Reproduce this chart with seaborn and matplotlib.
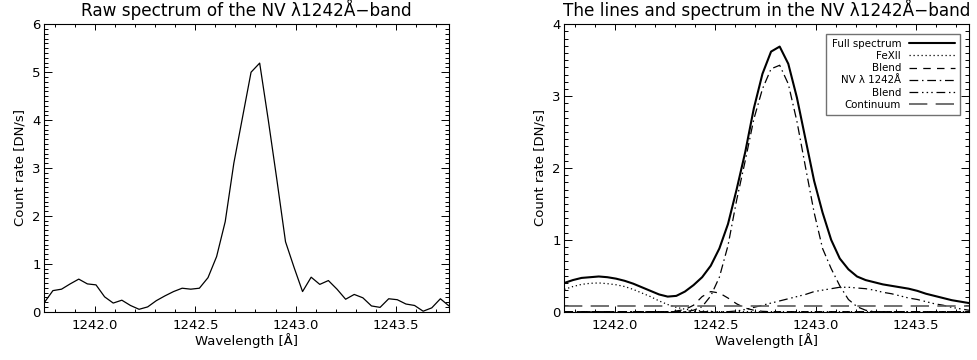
import matplotlib
matplotlib.use('Agg')
import matplotlib.pyplot as plt
from matplotlib.ticker import MultipleLocator
import seaborn as sns

# wavelength grid [Å] shared by both panels
wavelength = [1241.746, 1241.789, 1241.832, 1241.875, 1241.918, 1241.961, 1242.004, 1242.047,
              1242.090, 1242.133, 1242.176, 1242.219, 1242.262, 1242.305, 1242.348, 1242.391,
              1242.434, 1242.477, 1242.520, 1242.563, 1242.606, 1242.649, 1242.692, 1242.735,
              1242.778, 1242.821, 1242.864, 1242.907, 1242.950, 1242.993, 1243.035, 1243.078,
              1243.121, 1243.164, 1243.207, 1243.250, 1243.293, 1243.336, 1243.379, 1243.422,
              1243.465, 1243.508, 1243.551, 1243.594, 1243.637, 1243.680, 1243.723, 1243.766]

raw_counts = [0.19, 0.44, 0.47, 0.58, 0.68, 0.58, 0.56, 0.31, 0.18, 0.24,
              0.13, 0.05, 0.10, 0.23, 0.33, 0.42, 0.49, 0.47, 0.49, 0.71,
              1.15, 1.88, 3.10, 4.05, 5.00, 5.19, 4.00, 2.75, 1.46, 0.92,
              0.42, 0.72, 0.57, 0.65, 0.47, 0.26, 0.36, 0.29, 0.12, 0.09,
              0.27, 0.25, 0.16, 0.13, 0.01, 0.08, 0.27, 0.12]

full_spectrum = [0.40, 0.44, 0.47, 0.48, 0.49, 0.48, 0.46, 0.43, 0.39, 0.34,
                 0.29, 0.24, 0.21, 0.22, 0.28, 0.37, 0.48, 0.64, 0.88, 1.22,
                 1.70, 2.22, 2.83, 3.31, 3.62, 3.69, 3.45, 2.98, 2.40, 1.82,
                 1.38, 1.00, 0.74, 0.59, 0.49, 0.44, 0.41, 0.38, 0.36, 0.34,
                 0.32, 0.29, 0.25, 0.22, 0.19, 0.16, 0.14, 0.12]

fexii = [0.31, 0.35, 0.38, 0.395, 0.40, 0.39, 0.375, 0.35, 0.31, 0.26,
         0.21, 0.15, 0.10, 0.06, 0.035, 0.02, 0.01, 0.005, 0.0, 0.0,
         0.0, 0.0, 0.0, 0.0, 0.0, 0.0, 0.0, 0.0, 0.0, 0.0,
         0.0, 0.0, 0.0, 0.0, 0.0, 0.0, 0.0, 0.0, 0.0, 0.0,
         0.0, 0.0, 0.0, 0.0, 0.0, 0.0, 0.0, 0.0]

blend_1 = [0.0, 0.0, 0.0, 0.0, 0.0, 0.0, 0.0, 0.0, 0.0, 0.0,
           0.0, 0.0, 0.0, 0.01, 0.03, 0.09, 0.21, 0.28, 0.26, 0.19,
           0.11, 0.05, 0.02, 0.005, 0.0, 0.0, 0.0, 0.0, 0.0, 0.0,
           0.0, 0.0, 0.0, 0.0, 0.0, 0.0, 0.0, 0.0, 0.0, 0.0,
           0.0, 0.0, 0.0, 0.0, 0.0, 0.0, 0.0, 0.0]

nv_line = [0.0, 0.0, 0.0, 0.0, 0.0, 0.0, 0.0, 0.0, 0.0, 0.0,
           0.0, 0.0, 0.0, 0.0, 0.0, 0.02, 0.07, 0.22, 0.48, 0.92,
           1.55, 2.10, 2.68, 3.10, 3.38, 3.43, 3.17, 2.65, 2.01, 1.38,
           0.88, 0.60, 0.36, 0.17, 0.07, 0.02, 0.0, 0.0, 0.0, 0.0,
           0.0, 0.0, 0.0, 0.0, 0.0, 0.0, 0.0, 0.0]

blend_2 = [0.0, 0.0, 0.0, 0.0, 0.0, 0.0, 0.0, 0.0, 0.0, 0.0,
           0.0, 0.0, 0.0, 0.0, 0.0, 0.0, 0.0, 0.0, 0.0, 0.0,
           0.01, 0.03, 0.06, 0.09, 0.12, 0.15, 0.18, 0.21, 0.24, 0.28,
           0.30, 0.32, 0.34, 0.34, 0.33, 0.32, 0.30, 0.27, 0.25, 0.22,
           0.19, 0.17, 0.14, 0.11, 0.09, 0.06, 0.04, 0.02]

continuum = [0.085] * len(wavelength)

sns.set_style('ticks')
plt.rcParams['font.family'] = ['DejaVu Sans']
plt.rcParams['axes.edgecolor'] = 'black'
plt.rcParams['axes.linewidth'] = 0.8
plt.rcParams['text.color'] = 'black'
plt.rcParams['axes.labelcolor'] = 'black'
plt.rcParams['xtick.color'] = 'black'
plt.rcParams['ytick.color'] = 'black'

fig = plt.figure(figsize=(9.78, 3.6), dpi=100)
ax1 = fig.add_axes([0.0453, 0.1342, 0.4138, 0.7983])
ax2 = fig.add_axes([0.577, 0.1342, 0.4138, 0.7983])


def idl_axes(ax, ymax):
    ax.set_xlim(wavelength[0], wavelength[-1])
    ax.set_ylim(0, ymax)
    ax.xaxis.set_major_locator(MultipleLocator(0.5))
    ax.xaxis.set_minor_locator(MultipleLocator(0.1))
    ax.yaxis.set_major_locator(MultipleLocator(1))
    ax.yaxis.set_minor_locator(MultipleLocator(0.1))
    ax.xaxis.set_major_formatter(plt.FormatStrFormatter('%.1f'))
    ax.tick_params(which='both', direction='in', top=True, right=True,
                   colors='black', width=0.7)
    ax.tick_params(axis='x', which='major', length=4.3, pad=5, labelsize=9.5)
    ax.tick_params(axis='x', which='minor', length=2.2)
    ax.tick_params(axis='y', which='major', length=5.8, pad=2.5, labelsize=9.5)
    ax.tick_params(axis='y', which='minor', length=2.9)
    ax.set_xlabel('Wavelength [Å]', fontsize=9.5, labelpad=1, color='black')
    ax.set_ylabel('Count rate [DN/s]', fontsize=9.5, labelpad=4, color='black')
    for s in ax.spines.values():
        s.set_visible(True)
        s.set_color('black')


# left: raw spectrum
sns.lineplot(x=wavelength, y=raw_counts, ax=ax1, color='black', linewidth=0.9)
idl_axes(ax1, 6)
ax1.set_title('Raw spectrum of the NV λ1242Å−band', fontsize=12.2, pad=6,
              color='black')

# right: fitted lines
sns.lineplot(x=wavelength, y=full_spectrum, ax=ax2, color='black', linewidth=1.5,
             label='Full spectrum')
sns.lineplot(x=wavelength, y=fexii, ax=ax2, color='black', linewidth=0.9,
             linestyle=(0, (1, 2.2)), label='FeXII')
sns.lineplot(x=wavelength, y=blend_1, ax=ax2, color='black', linewidth=0.9,
             linestyle=(0, (6, 5)), label='Blend')
sns.lineplot(x=wavelength, y=nv_line, ax=ax2, color='black', linewidth=0.9,
             linestyle=(0, (7, 3, 1.2, 3)), label='NV λ 1242Å')
sns.lineplot(x=wavelength, y=blend_2, ax=ax2, color='black', linewidth=0.9,
             linestyle=(0, (7, 3, 1.2, 2.5, 1.2, 2.5, 1.2, 3)), label='Blend')
sns.lineplot(x=wavelength, y=continuum, ax=ax2, color='0.35', linewidth=1.2,
             linestyle=(0, (11, 5)), label='Continuum')
idl_axes(ax2, 4)
ax2.set_title('The lines and spectrum in the NV λ1242Å−band', fontsize=12.2, pad=6,
              color='black')

leg = ax2.legend(loc='upper right', markerfirst=False, fontsize=7.4,
                 handlelength=4.4, handletextpad=0.8, labelspacing=0.22,
                 borderpad=0.5, borderaxespad=0.9, frameon=True, fancybox=False)
leg.get_frame().set_edgecolor('0.3')
leg.get_frame().set_linewidth(1.0)
for t in leg.get_texts():
    t.set_color('black')

fig.savefig('out.png', dpi=100)
